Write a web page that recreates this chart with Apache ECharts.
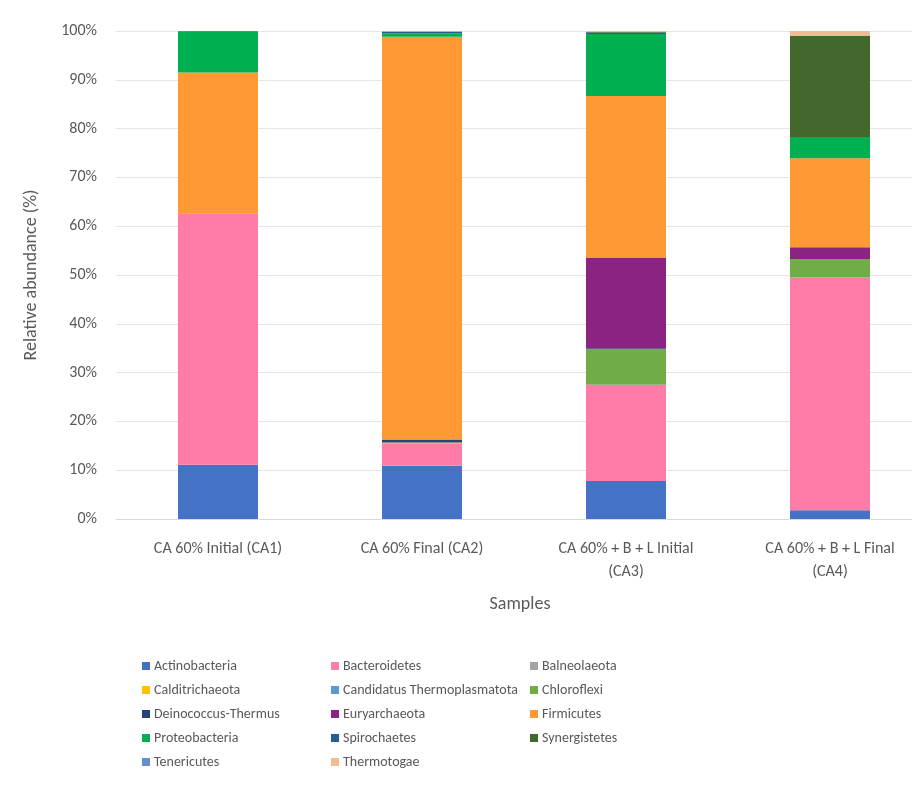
<!DOCTYPE html>
<html>
<head>
<meta charset="utf-8">
<script src="https://cdn.jsdelivr.net/npm/echarts@6/dist/echarts.min.js"></script>
<style>
  html, body { margin: 0; padding: 0; background: #fff; overflow: hidden; }
  /* the original figure is cropped on the right, so the canvas runs a bit past the window */
  #chart { width: 932px; height: 807px; }
</style>
</head>
<body>
<div id="chart"></div>
<script>
// samples on the x axis
const samples = ['CA 60% Initial (CA1)', 'CA 60% Final (CA2)', 'CA 60% + B + L Initial\n(CA3)', 'CA 60% + B + L Final\n(CA4)'];
const yTicks = [0, 10, 20, 30, 40, 50, 60, 70, 80, 90, 100];

// relative abundance (%) per phylum, one value per sample
const actinobacteria = [11.1, 10.9, 7.8, 1.8];
const bacteroidetes = [51.4, 4.6, 19.7, 47.6];
const balneolaeota = [0, 0, 0, 0.1];
const calditrichaeota = [0, 0.1, 0, 0];
const candidatusThermoplasmatota = [0, 0, 0, 0];
const chloroflexi = [0.1, 0.1, 7.3, 3.8];
const deinococcusThermus = [0, 0.6, 0.2, 0];
const euryarchaeota = [0, 0, 18.6, 2.4];
const firmicutes = [28.9, 82.5, 33.1, 18.2];
const proteobacteria = [8.4, 0.7, 12.7, 4.4];
const spirochaetes = [0, 0.4, 0.3, 0];
const synergistetes = [0.1, 0, 0.1, 20.7];
const tenericutes = [0, 0, 0, 0];
const thermotogae = [0, 0.1, 0.4, 1.0];

const phyla = [
  ['Actinobacteria', actinobacteria, '#4472C4'],
  ['Bacteroidetes', bacteroidetes, '#FF7CA8'],
  ['Balneolaeota', balneolaeota, '#A5A5A5'],
  ['Calditrichaeota', calditrichaeota, '#FFC000'],
  ['Candidatus Thermoplasmatota', candidatusThermoplasmatota, '#5B9BD5'],
  ['Chloroflexi', chloroflexi, '#70AD47'],
  ['Deinococcus-Thermus', deinococcusThermus, '#264478'],
  ['Euryarchaeota', euryarchaeota, '#8B2382'],
  ['Firmicutes', firmicutes, '#FF9933'],
  ['Proteobacteria', proteobacteria, '#00B050'],
  ['Spirochaetes', spirochaetes, '#255E91'],
  ['Synergistetes', synergistetes, '#43682B'],
  ['Tenericutes', tenericutes, '#698ED0'],
  ['Thermotogae', thermotogae, '#F1BC94']
];

const font = "Carlito, 'Liberation Sans Narrow', 'Liberation Sans', sans-serif";
const grey = '#595959';

const legendCol = (names, left) => ({
  orient: 'vertical',
  left: left,
  top: 654,
  itemWidth: 8,
  itemHeight: 8,
  itemGap: 10,
  icon: 'rect',
  selectedMode: false,
  data: names,
  textStyle: { color: grey, fontSize: 14, lineHeight: 14, fontFamily: font, padding: [0, 0, 0, -1] }
});

const chart = echarts.init(document.getElementById('chart'));
chart.setOption({
  animation: false,
  textStyle: { fontFamily: font },
  grid: { left: 116, top: 31, right: 0, height: 488 },
  legend: [
    legendCol(['Actinobacteria', 'Calditrichaeota', 'Deinococcus-Thermus', 'Proteobacteria', 'Tenericutes'], 137),
    legendCol(['Bacteroidetes', 'Candidatus Thermoplasmatota', 'Euryarchaeota', 'Spirochaetes', 'Thermotogae'], 326),
    legendCol(['Balneolaeota', 'Chloroflexi', 'Firmicutes', 'Synergistetes'], 525)
  ],
  xAxis: {
    type: 'category',
    data: samples,
    name: 'Samples',
    nameLocation: 'middle',
    nameGap: 76,
    nameTextStyle: { color: grey, fontSize: 18, fontFamily: font, padding: [0, 8, 0, 0] },
    axisLine: { lineStyle: { color: '#D9D9D9' } },
    axisTick: { show: false },
    axisLabel: { color: grey, fontSize: 16, lineHeight: 23, margin: 18, interval: 0, fontFamily: font }
  },
  yAxis: {
    type: 'value',
    min: yTicks[0],
    max: yTicks[yTicks.length - 1],
    interval: 10,
    name: 'Relative abundance (%)',
    nameLocation: 'middle',
    nameGap: 76,
    nameTextStyle: { color: grey, fontSize: 18, fontFamily: font },
    axisLine: { show: false },
    axisTick: { show: false },
    axisLabel: { color: grey, fontSize: 16, margin: 19, formatter: '{value}%', fontFamily: font },
    splitLine: { lineStyle: { color: '#E6E6E6' } }
  },
  series: phyla.map(([name, values, color]) => ({
    name: name,
    type: 'bar',
    stack: 'total',
    barWidth: 80,
    data: values,
    itemStyle: { color: color },
    emphasis: { disabled: true }
  }))
});
</script>
</body>
</html>
